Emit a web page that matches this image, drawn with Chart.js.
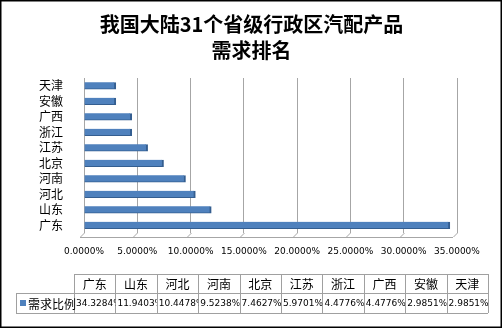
<!DOCTYPE html>
<html>
<head>
<meta charset="utf-8">
<script src="https://cdn.jsdelivr.net/npm/chart.js@4.4.0/dist/chart.umd.min.js"></script>
<style>
  html, body { margin: 0; padding: 0; background: #fff; }
</style>
</head>
<body>
<canvas id="chart" width="503" height="330"></canvas>
<script>
// 省份与需求比例（%）
const provinces = ['广东', '山东', '河北', '河南', '北京', '江苏', '浙江', '广西', '安徽', '天津'];
const demandRatio = [34.3284, 11.9403, 10.4478, 9.5238, 7.4627, 5.9701, 4.4776, 4.4776, 2.9851, 2.9851];
const seriesName = '需求比例';
const titleLines = ['我国大陆31个省级行政区汽配产品', '需求排名'];
const xMax = 35;
const xStep = 5;

const cjkFont = '"Noto Sans CJK SC", sans-serif';
const numFont = '"DejaVu Sans", sans-serif';
const barColor = '#4F81BD';
const gridColor = '#A6A6A6';

function pct(v) {
  return Number(v).toFixed(4) + '%';
}

// 外框、底板和下方的数据表
const dataTablePlugin = {
  id: 'dataTable',
  afterDraw(chart) {
    const ctx = chart.ctx;
    const xs = chart.scales.x;
    const area = chart.chartArea;
    ctx.save();

    // 底板斜线
    ctx.strokeStyle = gridColor;
    ctx.lineWidth = 1;
    ctx.beginPath();
    xs.ticks.forEach((t, i) => {
      const px = Math.round(xs.getPixelForTick(i)) + 0.5;
      ctx.moveTo(px, area.bottom);
      ctx.lineTo(px - 4, area.bottom + 4);
    });
    ctx.moveTo(area.left - 4, area.bottom + 4.5);
    ctx.lineTo(area.right - 4, area.bottom + 4.5);
    ctx.stroke();

    // 数据表
    const tLeft = 16, colLeft = 74, colW = 41.4;
    const rowTop = 274, rowMid = 293, rowBot = 313;
    const tRight = colLeft + colW * provinces.length;
    ctx.strokeStyle = '#A0A0A0';
    ctx.beginPath();
    ctx.moveTo(colLeft, rowTop + 0.5); ctx.lineTo(tRight, rowTop + 0.5);
    ctx.moveTo(tLeft, rowMid + 0.5); ctx.lineTo(tRight, rowMid + 0.5);
    ctx.moveTo(tLeft, rowBot + 0.5); ctx.lineTo(tRight, rowBot + 0.5);
    ctx.moveTo(tLeft + 0.5, rowMid); ctx.lineTo(tLeft + 0.5, rowBot);
    for (let i = 0; i <= provinces.length; i++) {
      const cx = Math.round(colLeft + colW * i) + 0.5;
      ctx.moveTo(cx, rowTop); ctx.lineTo(cx, rowBot);
    }
    ctx.stroke();

    ctx.fillStyle = '#000';
    ctx.textBaseline = 'middle';
    provinces.forEach((p, i) => {
      const cx = colLeft + colW * i;
      ctx.font = '12px ' + cjkFont;
      ctx.textAlign = 'center';
      ctx.fillText(p, cx + colW / 2, (rowTop + rowMid) / 2 + 1);

      ctx.save();
      ctx.beginPath();
      ctx.rect(cx + 1, rowMid + 1, colW - 1, rowBot - rowMid - 1);
      ctx.clip();
      ctx.font = '9px ' + numFont;
      const txt = pct(demandRatio[i]);
      const w = ctx.measureText(txt).width;
      if (w <= colW - 2) {
        ctx.fillText(txt, cx + colW / 2, (rowMid + rowBot) / 2 + 1);
      } else {
        ctx.textAlign = 'left';
        ctx.fillText(txt, cx + 2, (rowMid + rowBot) / 2 + 1);
      }
      ctx.restore();
    });

    // 图例标记
    ctx.fillStyle = barColor;
    ctx.fillRect(20, 300, 6, 6);
    ctx.fillStyle = '#000';
    ctx.textAlign = 'left';
    ctx.font = '12px ' + cjkFont;
    ctx.fillText(seriesName, 28, (rowMid + rowBot) / 2 + 1);

    // 外框
    ctx.strokeStyle = '#000';
    ctx.lineWidth = 1.5;
    ctx.strokeRect(0.75, 0.75, 500.5, 326.5);
    ctx.restore();
  }
};

new Chart(document.getElementById('chart'), {
  type: 'bar',
  data: {
    labels: provinces,
    datasets: [{
      label: seriesName,
      data: demandRatio,
      backgroundColor: barColor,
      borderColor: '#345E90',
      borderWidth: { top: 0, right: 2, bottom: 1, left: 0 },
      borderSkipped: false,
      barThickness: 7
    }]
  },
  options: {
    indexAxis: 'y',
    responsive: false,
    animation: false,
    layout: { padding: { left: 0, right: 0, top: 0, bottom: 67 } },
    plugins: {
      legend: { display: false },
      tooltip: { enabled: false },
      title: {
        display: true,
        text: titleLines,
        color: '#000',
        font: { family: cjkFont, size: 20, weight: 'bold', lineHeight: 1.3 },
        padding: { top: 11, bottom: 15 }
      }
    },
    scales: {
      x: {
        min: 0,
        max: xMax,
        ticks: {
          stepSize: xStep,
          callback: v => pct(v),
          padding: 13,
          maxRotation: 0,
          autoSkip: false,
          color: '#000',
          font: { family: numFont, size: 9 }
        },
        grid: { color: gridColor, drawTicks: false },
        border: { display: false },
        afterFit(s) { s.height = 30; }
      },
      y: {
        reverse: true,
        ticks: { padding: 13, autoSkip: false, color: '#000', font: { family: cjkFont, size: 12 } },
        grid: { display: false },
        border: { display: false },
        afterFit(s) { s.width = 84; }
      },
      // 右侧留白
      yRight: {
        type: 'category',
        axis: 'y',
        position: 'right',
        ticks: { display: false },
        grid: { display: false },
        border: { display: false },
        afterFit(s) { s.width = 46; }
      }
    }
  },
  plugins: [dataTablePlugin]
});
</script>
</body>
</html>
